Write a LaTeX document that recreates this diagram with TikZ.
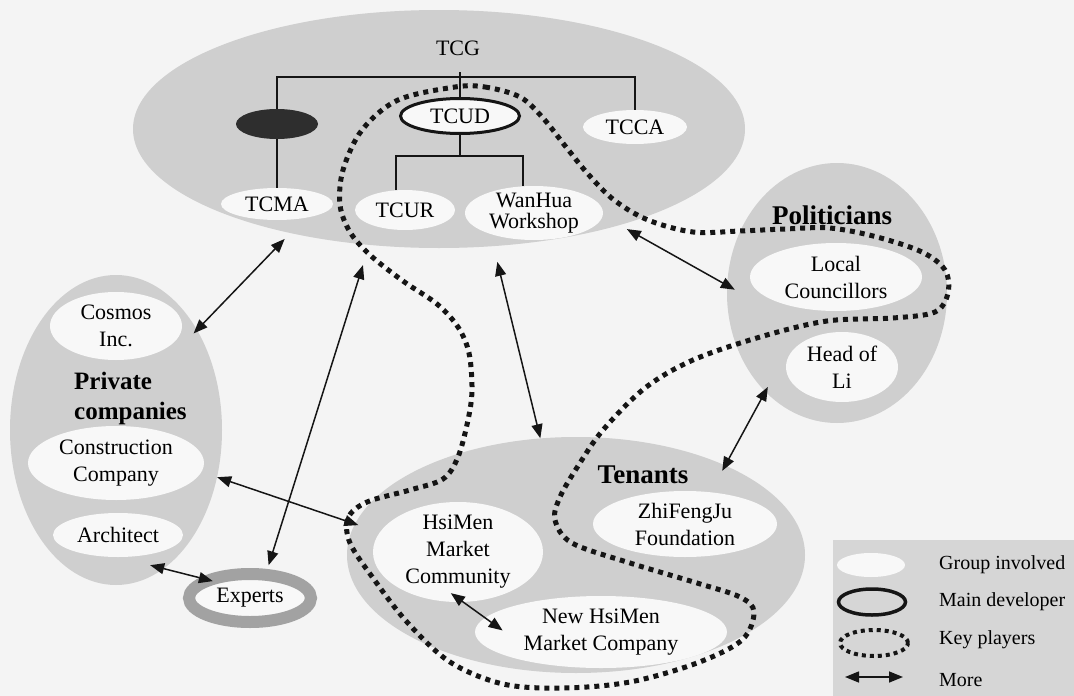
\documentclass[tikz,border=0pt]{standalone}
\usepackage{fontspec}
\setmainfont{Liberation Serif}
\usetikzlibrary{arrows.meta,shapes.geometric}
\definecolor{bg}{HTML}{F4F4F4}
\definecolor{grp}{HTML}{CFCFCF}
\definecolor{wht}{HTML}{F8F8F8}
\definecolor{ring}{HTML}{A2A2A2}
\definecolor{ink}{HTML}{151515}
\definecolor{darkfill}{HTML}{2E2E2E}
\definecolor{legbg}{HTML}{D6D6D6}
\newcommand\myfont{\fontsize{22}{27}\selectfont}
\newcommand\mytight{\fontsize{22}{21}\selectfont}
\newcommand\mysmall{\fontsize{20}{24}\selectfont}
\newcommand\myboldA{\fontsize{27}{31}\selectfont\bfseries}
\newcommand\myboldB{\fontsize{25}{30}\selectfont\bfseries}
\begin{document}
\begin{tikzpicture}[x=1pt,y=-1pt,
  grpbox/.style={ellipse, fill=grp, inner sep=0pt},
  whtbox/.style={ellipse, fill=wht, inner sep=-12pt, align=center, font=\myfont},
  sz/.style 2 args={minimum width=#1pt, minimum height=#2pt},
  tree/.style={line width=1.8pt, draw=ink},
  keyp/.style={line width=5pt, dash pattern=on 5pt off 5pt, draw=ink},
  arr/.style={{Triangle[length=14pt,width=11pt]}-{Triangle[length=14pt,width=11pt]}, line width=1.5pt, draw=ink},
  lbl/.style={font=\myfont, inner sep=0pt},
  leg/.style={font=\mysmall, inner sep=0pt, anchor=west}
]
% background
\fill[bg] (0,0) rectangle (1074,696);
\useasboundingbox (0,0) rectangle (1074,696);

% group ellipses
\node[grpbox, sz={612}{238}] (tcg) at (439,129) {};
\node[grpbox, sz={220}{260}] (polit) at (837,293) {};
\node[grpbox, sz={212}{310}] (priv) at (116,430) {};
\node[grpbox, sz={458}{236}] (tenants) at (576,555) {};

% TCG members
\node[ellipse, fill=darkfill, sz={82}{30}, inner sep=0pt] (dark) at (277,124) {};
\node[whtbox, sz={112}{32}] (tcma) at (277,204) {TCMA};
\node[whtbox, sz={119}{35}, draw=ink, line width=3pt] (tcud) at (460,116) {TCUD};
\node[whtbox, sz={104}{34}] (tcca) at (635,127) {TCCA};
\node[whtbox, sz={100}{40}] (tcur) at (405,210) {TCUR};
\node[whtbox, sz={138}{54}, font=\mytight] (wanhua) at (534,213) {WanHua\\Workshop};
\node[lbl] (tcglabel) at (458,48) {TCG};

% tree
\coordinate (bar) at (0,77);
\coordinate (bartwo) at (0,156);
\coordinate (stub) at (0,72);
\draw[tree] (dark.north) -- (dark.north |- bar) -- (tcca.north |- bar) -- (tcca.north);
\draw[tree] (tcud.north) -- (tcud.north |- stub);
\draw[tree] (dark.south) -- (tcma.north);
\draw[tree] (tcud.south) -- (tcud.south |- bartwo);
\draw[tree] (tcur.114) -- (tcur.114 |- bartwo) -- (wanhua.112.4 |- bartwo) -- (wanhua.112.4);

% politicians
\node[font=\myboldA, inner sep=0pt] (politlabel) at (832,215) {Politicians};
\node[whtbox, sz={172}{68}] (locc) at (836,277) {Local\\Councillors};
\node[whtbox, sz={112}{70}] (headli) at (842,367) {Head of\\Li};

% private companies
\node[whtbox, sz={132}{68}] (cosmos) at (116,326) {Cosmos\\Inc.};
\node[font=\myboldB, inner sep=0pt, align=left, anchor=west] (privlabel) at (74,398) {Private\\companies};
\node[whtbox, sz={176}{74}] (constr) at (116,463) {Construction\\Company};
\node[whtbox, sz={130}{44}] (archi) at (118,535) {Architect};

% experts
\node[ellipse, draw=ring, line width=12pt, fill=wht, sz={122}{48}, font=\myfont, inner sep=-12pt] (experts) at (250,598) {Experts};

% tenants
\node[font=\myboldA, inner sep=0pt] (tenlabel) at (643,475) {Tenants};
\node[whtbox, sz={184}{66}] (zhi) at (685,524) {ZhiFengJu\\Foundation};
\node[whtbox, sz={170}{100}] (hsimen) at (458,552) {HsiMen\\Market\\Community};
\node[whtbox, sz={252}{72}] (newhsi) at (601,632) {New HsiMen\\Market Company};

% key players
\draw[keyp] plot[smooth cycle, tension=0.55] coordinates {
 (455,87) (485,87) (520,97) (543,118) (566,147) (588,174) (614,200) (648,220) (693,232)
 (740,231) (785,229) (830,228) (877,237) (922,252) (945,270) (948,293) (935,312)
 (893,318) (827,321) (760,337) (693,360) (645,388) (603,430) (578,466) (560,497)
 (555,520) (572,543) (630,563) (697,583) (740,597) (754,612) (742,640) (697,663)
 (630,682) (563,688) (503,684) (450,662) (407,622) (373,578) (350,543) (348,518)
 (367,502) (410,490) (443,479) (458,457) (468,420) (472,390) (469,353) (458,327)
 (437,304) (403,281) (370,255) (350,232) (340,205) (343,170) (362,130) (398,100)};

% relations
\draw[arr, shorten <=-5pt, shorten >=8pt] (priv.51.8) -- (tcg.215.9);
\draw[arr, shorten <=4pt, shorten >=21pt] (experts.59.6) -- (tcg.239.8);
\draw[arr, shorten >=28.5pt] (tenants.107.2) -- (wanhua.206.6);
\draw[arr, shorten <=8pt, shorten >=-9pt] (tcg.332.7) -- (polit.176);
\draw[arr, shorten <=-5.5pt, shorten >=-6.3pt] (polit.234) -- (tenants.31.6);
\draw[arr, shorten >=-3.7pt] (priv.335) -- (tenants.172.75);
\draw[arr, shorten <=-14pt, shorten >=-13pt] (priv.289.8) -- (experts.158.1);
\draw[arr, shorten <=-15.3pt, shorten >=-21.7pt] (hsimen.276.4) -- (newhsi.173.6);

% legend
\fill[legbg] (833,540) rectangle (1074,696);
\node[ellipse, fill=wht, sz={68}{24}, inner sep=0pt] (lgroup) at (871,565) {};
\node[ellipse, draw=ink, line width=3.5pt, fill=legbg, sz={67}{26}, inner sep=0pt] (ldev) at (872,602) {};
\node[ellipse, draw=ink, line width=4pt, dash pattern=on 4pt off 4pt, sz={68}{26}, inner sep=0pt] (lkey) at (874,643) {};
\coordinate (lgA) at (845,677);
\coordinate (lgB) at (903,677);
\draw[arr] (lgA) -- (lgB);
\node[leg] (tgroup) at (939,565) {Group involved};
\node[leg] (tdev) at (939,602) {Main developer};
\node[leg] (tkey) at (939,640) {Key players};
\node[leg] (tmore) at (939,680) {More};
\end{tikzpicture}
\end{document}
